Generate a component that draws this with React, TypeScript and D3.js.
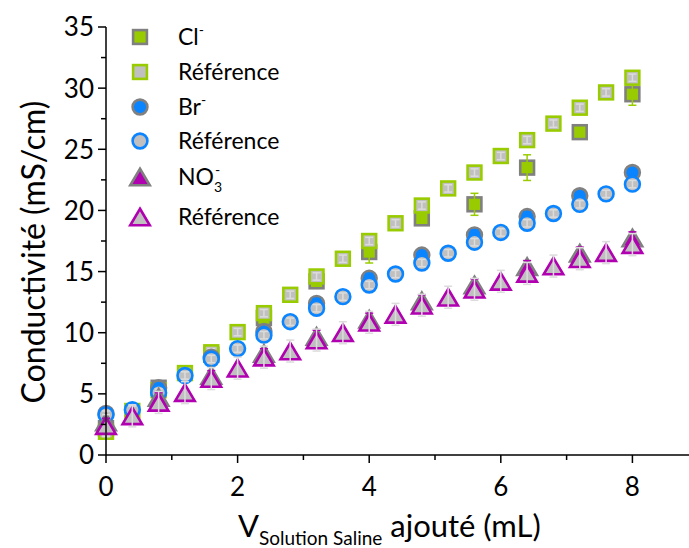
import React from "react";
import * as d3 from "d3";

const xRef = [0, 0.4, 0.8, 1.2, 1.6, 2.0, 2.4, 2.8, 3.2, 3.6, 4.0, 4.4, 4.8, 5.2, 5.6, 6.0, 6.4, 6.8, 7.2, 7.6, 8.0];
const xMeas = [0, 0.8, 1.6, 2.4, 3.2, 4.0, 4.8, 5.6, 6.4, 7.2, 8.0];

const clRef = [1.9, 3.6, 5.3, 6.7, 8.4, 10.05, 11.6, 13.1, 14.6, 16.05, 17.5, 18.95, 20.4, 21.8, 23.1, 24.45, 25.75, 27.1, 28.4, 29.65, 30.85];
const clMeas = [2.2, 5.5, 8.2, 11.2, 14.2, 16.6, 19.35, 20.5, 23.5, 26.4, 29.5];
const clErr = [0.2, 0.3, 0.3, 0.4, 0.3, 0.9, 0.3, 0.9, 1.05, 0.3, 0.9];

const brRef = [3.3, 3.7, 5.1, 6.5, 7.85, 8.7, 9.8, 10.9, 12.0, 12.95, 13.9, 14.8, 15.7, 16.5, 17.4, 18.2, 18.95, 19.75, 20.5, 21.35, 22.15];
const brMeas = [3.4, 5.5, 8.0, 10.1, 12.4, 14.45, 16.35, 18.0, 19.5, 21.2, 23.1];
const brErr = [0.2, 0.3, 0.3, 0.3, 0.4, 0.4, 0.3, 0.4, 0.4, 0.3, 0.2];

const no3Ref = [2.4, 3.2, 4.3, 5.1, 6.25, 7.1, 8.0, 8.5, 9.4, 10.0, 10.85, 11.5, 12.25, 12.9, 13.55, 14.2, 14.85, 15.45, 16.05, 16.55, 17.2];
const no3Meas = [2.7, 4.7, 6.5, 8.3, 9.7, 11.1, 12.6, 13.9, 15.4, 16.5, 17.75];
const no3Err = [0.3, 0.4, 0.4, 0.4, 0.5, 0.5, 0.5, 0.5, 0.5, 0.5, 0.5];

const refErrSmall = 0.3;
const refErrTri = 0.9;

const xTicks = [0, 2, 4, 6, 8];
const xMinor = [1, 3, 5, 7];
const yTicks = [0, 5, 10, 15, 20, 25, 30, 35];
const yMinor = [2.5, 7.5, 12.5, 17.5, 22.5, 27.5, 32.5];

const GREEN = "#99cc00";
const BLUE = "#0a84ff";
const MAGENTA = "#b000b0";
const GRAY = "#808080";
const LIGHT = "#c0c0c0";
const FONT = "Lato, 'Open Sans', sans-serif";

type Shape = "square" | "circle" | "triangle";

function Marker({ shape, cx, cy, fill, stroke }: { shape: Shape; cx: number; cy: number; fill: string; stroke: string }) {
  const sw = 2.6;
  if (shape === "square") {
    const s = 13.8;
    return <rect x={cx - s / 2} y={cy - s / 2} width={s} height={s} fill={fill} stroke={stroke} strokeWidth={sw} />;
  }
  if (shape === "circle") {
    return <circle cx={cx} cy={cy} r={7.4} fill={fill} stroke={stroke} strokeWidth={sw} />;
  }
  const w = 19.5, h = 16.5;
  const p = `M${cx},${cy - h / 2} L${cx + w / 2},${cy + h / 2} L${cx - w / 2},${cy + h / 2} Z`;
  return <path d={p} fill={fill} stroke={stroke} strokeWidth={sw} strokeLinejoin="miter" />;
}

export default function App() {
  const x = d3.scaleLinear().domain([0, 8.86]).range([106, 689]);
  const y = d3.scaleLinear().domain([0, 35]).range([455, 27]);

  const errBar = (xv: number, yv: number, e: number, color: string, key: string) => (
    <g key={key} stroke={color} strokeWidth={1.5}>
      <line x1={x(xv)} x2={x(xv)} y1={y(yv - e)} y2={y(yv + e)} />
      <line x1={x(xv) - 4} x2={x(xv) + 4} y1={y(yv - e)} y2={y(yv - e)} />
      <line x1={x(xv) - 4} x2={x(xv) + 4} y1={y(yv + e)} y2={y(yv + e)} />
    </g>
  );

  const series = [
    { shape: "square" as Shape, meas: clMeas, err: clErr, ref: clRef, color: GREEN },
    { shape: "circle" as Shape, meas: brMeas, err: brErr, ref: brRef, color: BLUE },
    { shape: "triangle" as Shape, meas: no3Meas, err: no3Err, ref: no3Ref, color: MAGENTA },
  ];

  const legendRows = [
    { shape: "square" as Shape, fill: GREEN, stroke: GRAY, label: "Cl", sup: "-", sub: "" },
    { shape: "square" as Shape, fill: LIGHT, stroke: GREEN, label: "Référence", sup: "", sub: "" },
    { shape: "circle" as Shape, fill: BLUE, stroke: GRAY, label: "Br", sup: "-", sub: "" },
    { shape: "circle" as Shape, fill: LIGHT, stroke: BLUE, label: "Référence", sup: "", sub: "" },
    { shape: "triangle" as Shape, fill: MAGENTA, stroke: GRAY, label: "NO", sup: "-", sub: "3" },
    { shape: "triangle" as Shape, fill: LIGHT, stroke: MAGENTA, label: "Référence", sup: "", sub: "" },
  ];
  const legendY = [37, 72, 107, 141, 177, 217];

  return (
    <svg width={689} height={548} style={{ position: "absolute", left: 0, top: 0, background: "#fff" }} fontFamily={FONT}>
      {series.map((s, si) => (
        <g key={si}>
          {xMeas.map((xv, i) => (
            <g key={"m" + i}>
              <Marker shape={s.shape} cx={x(xv)} cy={y(s.meas[i])} fill={s.color} stroke={GRAY} />
              {errBar(xv, s.meas[i], s.err[i], s.color, "e" + i)}
            </g>
          ))}
          {xRef.map((xv, i) => (
            <g key={"r" + i}>
              <Marker shape={s.shape} cx={x(xv)} cy={y(s.ref[i])} fill={LIGHT} stroke={s.color} />
              {errBar(xv, s.ref[i], s.shape === "triangle" ? refErrTri : refErrSmall, "#dcdcdc", "re" + i)}
            </g>
          ))}
        </g>
      ))}

      <line x1={106} x2={689} y1={455} y2={455} stroke="#000" strokeWidth={1.5} />
      <line x1={106} x2={106} y1={27} y2={455} stroke="#000" strokeWidth={1.5} />
      {xTicks.map((t) => (
        <g key={"xt" + t}>
          <line x1={x(t)} x2={x(t)} y1={455} y2={463} stroke="#000" strokeWidth={1.5} />
          <text x={x(t)} y={496} textAnchor="middle" fontSize={26} fill="#000">{t}</text>
        </g>
      ))}
      {xMinor.map((t) => (
        <line key={"xm" + t} x1={x(t)} x2={x(t)} y1={455} y2={460} stroke="#000" strokeWidth={1.5} />
      ))}
      {yTicks.map((t) => (
        <g key={"yt" + t}>
          <line x1={98} x2={106} y1={y(t)} y2={y(t)} stroke="#000" strokeWidth={1.5} />
          <text x={94} y={y(t)} dy="0.36em" textAnchor="end" fontSize={26} fill="#000">{t}</text>
        </g>
      ))}
      {yMinor.map((t) => (
        <line key={"ym" + t} x1={101} x2={106} y1={y(t)} y2={y(t)} stroke="#000" strokeWidth={1.5} />
      ))}

      <text transform="translate(45,252) rotate(-90)" textAnchor="middle" fontSize={32} fill="#000">Conductivité (mS/cm)</text>
      <text x={238} y={537} fontSize={31} fill="#000">
        V<tspan fontSize={19} dy={8}>Solution Saline</tspan>
        <tspan dy={-8}> ajouté (mL)</tspan>
      </text>

      {legendRows.map((r, i) => (
        <g key={"lg" + i}>
          <Marker shape={r.shape} cx={140} cy={legendY[i]} fill={r.fill} stroke={r.stroke} />
          <text x={178} y={legendY[i]} dy="0.36em" fontSize={23} fill="#000">
            {r.label}
            {r.sub ? <tspan fontSize={14} dy={7}>{r.sub}</tspan> : null}
            {r.sup ? <tspan fontSize={14} dx={r.sub ? -7 : 0} dy={r.sub ? -17 : -10}>{r.sup}</tspan> : null}
          </text>
        </g>
      ))}
    </svg>
  );
}
